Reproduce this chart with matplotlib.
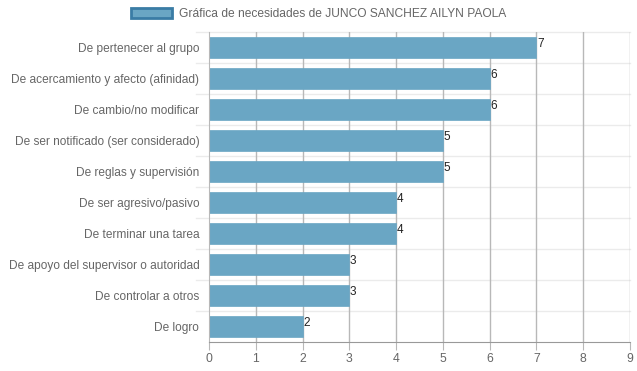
import matplotlib
matplotlib.use("Agg")
import matplotlib.pyplot as plt
from matplotlib.patches import Patch

plt.rcParams['font.family'] = ['Liberation Sans', 'DejaVu Sans']

categories = [
    "De pertenecer al grupo",
    "De acercamiento y afecto (afinidad)",
    "De cambio/no modificar",
    "De ser notificado (ser considerado)",
    "De reglas y supervisión",
    "De ser agresivo/pasivo",
    "De terminar una tarea",
    "De apoyo del supervisor o autoridad",
    "De controlar a otros",
    "De logro",
]
values = [7, 6, 6, 5, 5, 4, 4, 3, 3, 2]
xticks = [0, 1, 2, 3, 4, 5, 6, 7, 8, 9]
legend_label = "Gráfica de necesidades de JUNCO SANCHEZ AILYN PAOLA"

W, H = 637, 371
fig = plt.figure(figsize=(W / 100, H / 100), dpi=100)
ax = fig.add_axes([209 / W, 1 - 342 / H, (630 - 209) / W, (342 - 32) / H])

n = len(categories)
ypos = list(range(n))
ax.barh(ypos, values, height=0.70, color="#6aa6c4", edgecolor="#6aa6c4",
        linewidth=0.5, zorder=2)
for y, v in zip(ypos, values):
    ax.text(v + 0.01, y - 0.12, str(v), va="center", ha="left",
            fontsize=8.5, color="#222222", zorder=3)

ax.set_xlim(0, 9)
ax.set_ylim(n - 0.5, -0.5)
ax.set_xticks(xticks)
ax.set_xticklabels([str(t) for t in xticks], color="#666666", fontsize=8.8)
ax.set_yticks(ypos)
ax.set_yticklabels(categories, color="#666666", fontsize=8.6)

# gridlines
for x in xticks[1:]:
    ax.axvline(x, color="#b8b8b8", linewidth=1, zorder=1)
for b in [i - 0.5 for i in range(n)]:
    ax.axhline(b, color="#ebebeb", linewidth=1, zorder=0, xmin=-0.03, clip_on=False)

for s in ["top", "right"]:
    ax.spines[s].set_visible(False)
ax.spines["left"].set_color("#b8b8b8")
ax.spines["bottom"].set_color("#999999")
ax.tick_params(axis="x", length=6, color="#b8b8b8", pad=2)
ax.tick_params(axis="y", length=0, pad=7)

leg = fig.legend(handles=[Patch(facecolor="#6aa6c4", edgecolor="#3a7ca5", linewidth=2)],
                 labels=[legend_label], loc="center", bbox_to_anchor=(0.5, 1 - 14 / H),
                 frameon=False, fontsize=8.65, handlelength=3.4, handleheight=0.9,
                 handletextpad=0.6)
for t in leg.get_texts():
    t.set_color("#666666")

fig.savefig("out.png", dpi=100)
